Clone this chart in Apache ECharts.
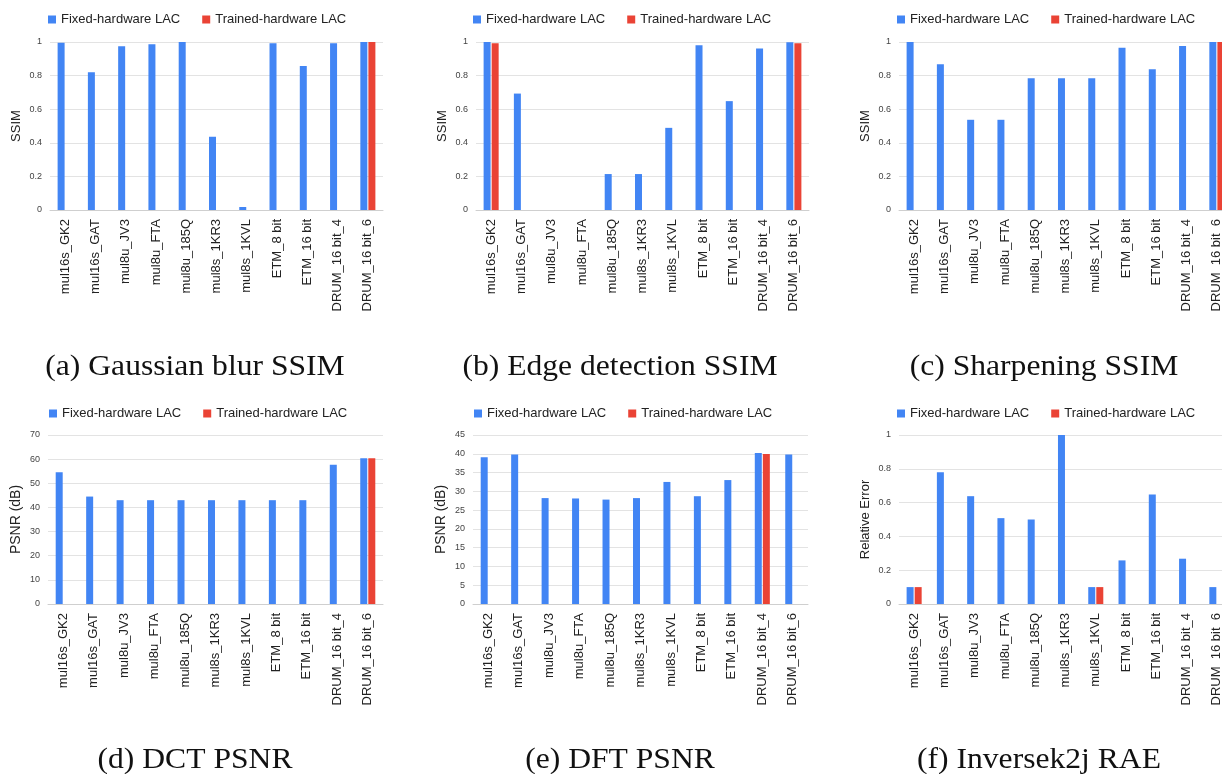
<!DOCTYPE html>
<html>
<head>
<meta charset="utf-8">
<title>Approximate multipliers: output quality per application</title>
<script src="https://cdn.jsdelivr.net/npm/echarts@6/dist/echarts.min.js"></script>
<style>
  html, body { margin: 0; padding: 0; background: #ffffff; overflow: hidden; }
  /* canvas runs a little past the right edge so the last panels bleed off the page */
  #chart { width: 1240px; height: 774px; }
</style>
</head>
<body>
<div id="chart"></div>
<script>
// Multiplier configurations along every x axis
const categories = ['mul16s_GK2', 'mul16s_GAT', 'mul8u_JV3', 'mul8u_FTA', 'mul8u_185Q',
  'mul8s_1KR3', 'mul8s_1KVL', 'ETM_8 bit', 'ETM_16 bit', 'DRUM_16 bit_4', 'DRUM_16 bit_6'];

const seriesNames = ['Fixed-hardware LAC', 'Trained-hardware LAC'];

// (a) Gaussian blur SSIM
const gaussianFixed   = [0.996, 0.82, 0.974, 0.986, 1.0, 0.436, 0.018, 0.992, 0.857, 0.992, 1.0];
const gaussianTrained = [null, null, null, null, null, null, null, null, null, null, 1.0];

// (b) Edge detection SSIM
const edgeFixed   = [1.0, 0.693, 0, 0, 0.214, 0.214, 0.489, 0.98, 0.648, 0.962, 0.998];
const edgeTrained = [0.992, null, null, null, null, null, null, null, null, null, 0.992];

// (c) Sharpening SSIM
const sharpenFixed   = [1.0, 0.867, 0.537, 0.537, 0.784, 0.784, 0.784, 0.966, 0.838, 0.976, 1.0];
const sharpenTrained = [null, null, null, null, null, null, null, null, null, null, 1.0];

// (d) DCT PSNR (dB)
const dctFixed   = [54.6, 44.5, 43.0, 43.0, 43.0, 43.0, 43.0, 43.0, 43.0, 57.7, 60.4];
const dctTrained = [null, null, null, null, null, null, null, null, null, null, 60.4];

// (e) DFT PSNR (dB)
const dftFixed   = [39.1, 39.8, 28.2, 28.1, 27.8, 28.2, 32.5, 28.7, 33.0, 40.2, 39.8];
const dftTrained = [null, null, null, null, null, null, null, null, null, 39.95, null];

// (f) Inversek2j relative error
const inversekFixed   = [0.1, 0.78, 0.638, 0.508, 0.5, 1.0, 0.1, 0.258, 0.648, 0.268, 0.1];
const inversekTrained = [0.1, null, null, null, null, null, 0.1, null, null, null, null];

// Tick ranges for each value axis: [min, max, step]
const ssimTicks  = [0, 1, 0.2];
const dctTicks   = [0, 70, 10];
const dftTicks   = [0, 45, 5];
const errorTicks = [0, 1, 0.2];

const captions = ['(a) Gaussian blur SSIM', '(b) Edge detection SSIM', '(c) Sharpening SSIM',
  '(d) DCT PSNR', '(e) DFT PSNR', '(f) Inversek2j RAE'];

const BLUE = '#4285f4';
const RED = '#ea4335';

// Panel layout (grid box, legend anchor, caption anchor)
const panels = [
  { fixed: gaussianFixed, trained: gaussianTrained, ticks: ssimTicks, name: 'SSIM', nameSize: 13, nameGap: 27,
    grid: { left: 50, top: 42, width: 333, height: 168 }, legend: { left: 48, top: 13 }, cap: [195, 367] },
  { fixed: edgeFixed, trained: edgeTrained, ticks: ssimTicks, name: 'SSIM', nameSize: 13, nameGap: 27,
    grid: { left: 476, top: 42, width: 333, height: 168 }, legend: { left: 473, top: 13 }, cap: [620, 367] },
  { fixed: sharpenFixed, trained: sharpenTrained, ticks: ssimTicks, name: 'SSIM', nameSize: 13, nameGap: 27,
    grid: { left: 899, top: 42, width: 333, height: 168 }, legend: { left: 897, top: 13 }, cap: [1044, 367] },
  { fixed: dctFixed, trained: dctTrained, ticks: dctTicks, name: 'PSNR (dB)', nameSize: 14, nameGap: 25,
    grid: { left: 48, top: 435, width: 335, height: 169 }, legend: { left: 49, top: 407 }, cap: [195, 760] },
  { fixed: dftFixed, trained: dftTrained, ticks: dftTicks, name: 'PSNR (dB)', nameSize: 14, nameGap: 25,
    grid: { left: 473, top: 435, width: 335, height: 169 }, legend: { left: 474, top: 407 }, cap: [620, 760] },
  { fixed: inversekFixed, trained: inversekTrained, ticks: errorTicks, name: 'Relative Error', nameSize: 13, nameGap: 27,
    grid: { left: 899, top: 435, width: 333, height: 169 }, legend: { left: 897, top: 407 }, cap: [1039, 760] }
];

const SANS = '"Liberation Sans", Arial, sans-serif';

const option = {
  animation: false,
  backgroundColor: '#ffffff',
  grid: [], xAxis: [], yAxis: [], series: [], legend: [], graphic: []
};

panels.forEach((p, i) => {
  option.grid.push(Object.assign({ containLabel: false }, p.grid));
  option.legend.push({
    left: p.legend.left, top: p.legend.top, padding: 0,
    data: seriesNames,
    icon: 'rect', itemWidth: 8, itemHeight: 8, itemGap: 22,
    textStyle: { fontFamily: SANS, fontSize: 13, color: '#222' }
  });
  option.xAxis.push({
    type: 'category', gridIndex: i, data: categories,
    axisTick: { show: false },
    axisLine: { lineStyle: { color: '#cfcfcf', width: 1 } },
    axisLabel: { rotate: 90, interval: 0, margin: 9, fontFamily: SANS, fontSize: 13, color: '#222' }
  });
  option.yAxis.push({
    type: 'value', gridIndex: i,
    min: p.ticks[0], max: p.ticks[1], interval: p.ticks[2],
    name: p.name, nameLocation: 'middle', nameRotate: 90, nameGap: p.nameGap,
    nameTextStyle: { fontFamily: SANS, fontSize: p.nameSize, color: '#222' },
    axisLine: { show: false }, axisTick: { show: false },
    splitLine: { lineStyle: { color: '#e3e3e3', width: 1 } },
    axisLabel: { margin: 8, fontFamily: SANS, fontSize: 9, color: '#444' }
  });
  option.series.push({
    name: seriesNames[0], type: 'bar', xAxisIndex: i, yAxisIndex: i,
    data: p.fixed, barWidth: 7, barGap: '15%',
    itemStyle: { color: BLUE }
  });
  option.series.push({
    name: seriesNames[1], type: 'bar', xAxisIndex: i, yAxisIndex: i,
    data: p.trained, barWidth: 7, barGap: '15%',
    itemStyle: { color: RED }
  });
  // Sub-figure caption, set in a wide serif
  option.graphic.push({
    type: 'text', x: p.cap[0], y: p.cap[1], scaleX: 1.09,
    style: {
      text: captions[i], align: 'center', verticalAlign: 'middle',
      fontFamily: '"Liberation Serif", "Times New Roman", serif', fontSize: 29, fill: '#111'
    }
  });
});

const chart = echarts.init(document.getElementById('chart'), null, { renderer: 'canvas' });
chart.setOption(option);
</script>
</body>
</html>
